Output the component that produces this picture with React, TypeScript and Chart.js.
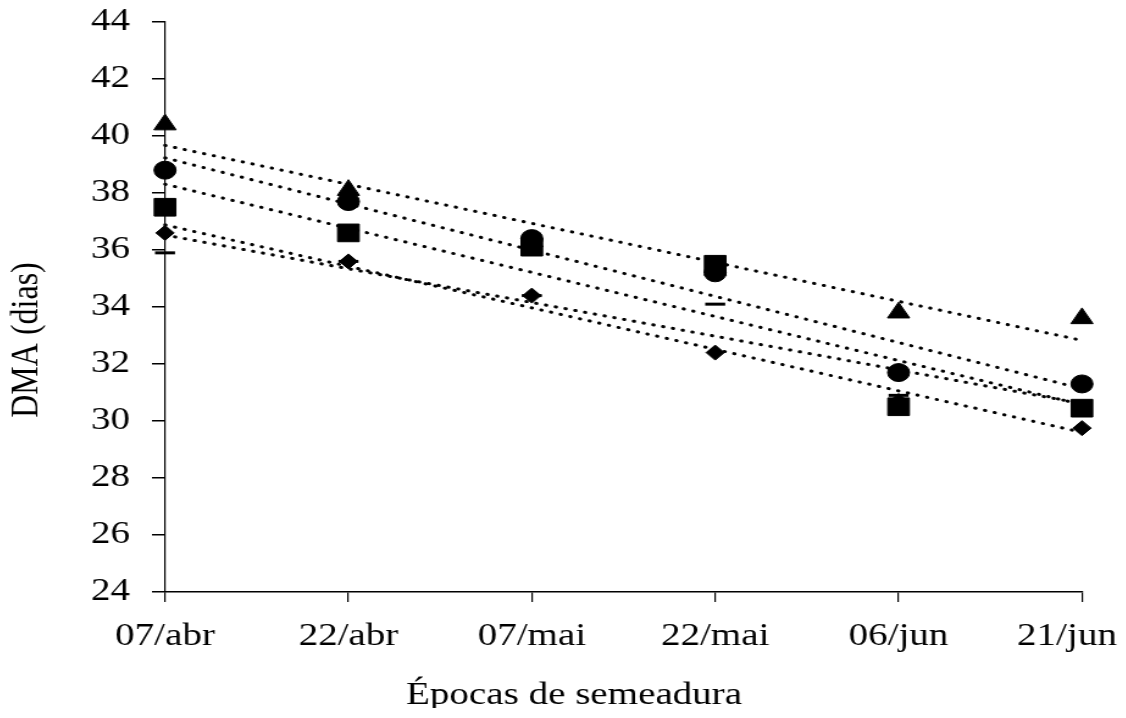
import { useEffect, useRef } from 'react';
import { Chart, registerables } from 'chart.js';

Chart.register(...registerables);

// ---- data ----
const categories = ['07/abr', '22/abr', '07/mai', '22/mai', '06/jun', '21/jun'];
const triangleValues = [40.4, 38.1, 36.3, 35.3, 33.8, 33.6];
const circleValues = [38.8, 37.7, 36.4, 35.2, 31.7, 31.3];
const squareValues = [37.5, 36.6, 36.1, 35.5, 30.5, 30.45];
const diamondValues = [36.6, 35.6, 34.4, 32.4, 30.7, 29.75];
const dashValues = [35.9, 35.6, 34.4, 34.1, 30.9, 30.5];
const yMin = 24;
const yMax = 44;
const yStep = 2;
const yAxisTitle = 'DMA (dias)';
const xAxisTitle = 'Épocas de semeadura';

// ---- layout / style ----
const W = 916;
const H = 700;
const SX = 1.22;
const FONT = '"Liberation Serif", "Times New Roman", serif';
const LAST_LABEL_SHIFT = -12.3;

function linearFit(values: number[]): number[] {
  const n = values.length;
  const xm = (n - 1) / 2;
  const ym = values.reduce((a, b) => a + b, 0) / n;
  let sxy = 0;
  let sxx = 0;
  values.forEach((v, i) => {
    sxy += (i - xm) * (v - ym);
    sxx += (i - xm) * (i - xm);
  });
  const slope = sxy / sxx;
  return values.map((_, i) => ym + slope * (i - xm));
}

const seriesDefs = [
  { label: 'Triângulo', values: triangleValues, style: 'triangle', radius: 10.5, bw: 1 },
  { label: 'Círculo', values: circleValues, style: 'circle', radius: 9, bw: 1 },
  { label: 'Quadrado', values: squareValues, style: 'rect', radius: 12.5, bw: 1 },
  { label: 'Losango', values: diamondValues, style: 'rectRot', radius: 7.5, bw: 1 },
  { label: 'Traço', values: dashValues, style: 'line', radius: 8.2, bw: 3 },
];

const shiftLastLabel = {
  id: 'shiftLastLabel',
  beforeDraw(chart: any) {
    const s = chart.scales.x;
    if (!s) return;
    const items = s.getLabelItems(chart.chartArea);
    const it = items[items.length - 1];
    if (it && !it._shifted) {
      it.options.translation[0] += LAST_LABEL_SHIFT;
      it._shifted = true;
    }
  },
};

export default function App() {
  const ref = useRef<HTMLCanvasElement>(null);

  useEffect(() => {
    if (!ref.current) return;
    const pointSets = seriesDefs.map((s) => ({
      type: 'line' as const,
      label: s.label,
      data: s.values,
      showLine: false,
      pointStyle: s.style,
      pointRadius: s.radius,
      pointHoverRadius: s.radius,
      pointBackgroundColor: '#000',
      pointBorderColor: '#000',
      pointBorderWidth: s.bw,
      clip: false,
    }));
    const trendSets = seriesDefs.map((s) => ({
      type: 'line' as const,
      label: s.label + ' (tendência)',
      data: linearFit(s.values),
      borderColor: '#000',
      borderWidth: 3,
      borderDash: [0.6, 7.6],
      borderCapStyle: 'round' as const,
      pointRadius: 0,
      fill: false,
      tension: 0,
      clip: false,
    }));

    const tickFont = { family: FONT, size: 32, weight: 'normal' as const };

    const chart = new Chart(ref.current, {
      type: 'line',
      data: {
        labels: categories,
        datasets: [...pointSets, ...trendSets] as any,
      },
      plugins: [shiftLastLabel],
      options: {
        responsive: false,
        maintainAspectRatio: false,
        animation: false,
        devicePixelRatio: 1,
        layout: { padding: { left: 12, right: 0, top: 14, bottom: 50 } },
        events: [],
        plugins: {
          legend: { display: false },
          tooltip: { enabled: false },
          title: {
            display: true,
            text: yAxisTitle,
            position: 'left',
            align: 'center',
            color: '#000',
            font: { family: FONT, size: 32, weight: 'normal', lineHeight: 0.2 },
            padding: { top: 0.6, bottom: 0 },
          },
          subtitle: {
            display: true,
            text: xAxisTitle,
            position: 'bottom',
            align: 'center',
            color: '#000',
            font: { family: FONT, size: 32, weight: 'normal', lineHeight: 0.2 },
            padding: { top: 34.8, bottom: -41.2 },
          },
        },
        scales: {
          x: {
            type: 'category',
            offset: false,
            grid: {
              display: true,
              drawOnChartArea: false,
              drawTicks: true,
              tickLength: 10,
              color: '#000',
              lineWidth: 1.2,
              offset: false,
            },
            border: { display: true, color: '#000', width: 1.5 },
            ticks: {
              color: '#000',
              font: tickFont,
              padding: 15,
              maxRotation: 0,
              minRotation: 0,
              autoSkip: false,
            },
            afterFit(s: any) {
              s.height = 66;
              s.paddingLeft = 0;
              s.paddingRight = 0;
            },
          },
          y: {
            type: 'linear',
            position: 'left',
            min: yMin,
            max: yMax,
            grid: {
              display: true,
              drawOnChartArea: false,
              drawTicks: true,
              tickLength: 10.7,
              color: '#000',
              lineWidth: 1.5,
            },
            border: { display: true, color: '#000', width: 1.2 },
            ticks: {
              stepSize: yStep,
              color: '#000',
              font: tickFont,
              padding: 18,
            },
            afterFit(s: any) {
              s.width = 109.7;
              s.paddingTop = 0;
              s.paddingBottom = 0;
            },
          },
          yR: {
            type: 'linear',
            position: 'right',
            display: true,
            grid: { display: false },
            border: { display: false },
            ticks: { display: false },
            afterFit(s: any) {
              s.width = 35.7;
              s.paddingTop = 0;
              s.paddingBottom = 0;
            },
          },
        } as any,
      },
    });
    return () => chart.destroy();
  }, []);

  return (
    <div
      style={{
        width: W,
        height: H,
        transform: `scaleX(${SX})`,
        transformOrigin: '0 0',
      }}
    >
      <canvas ref={ref} width={W} height={H} style={{ display: 'block' }} />
    </div>
  );
}
